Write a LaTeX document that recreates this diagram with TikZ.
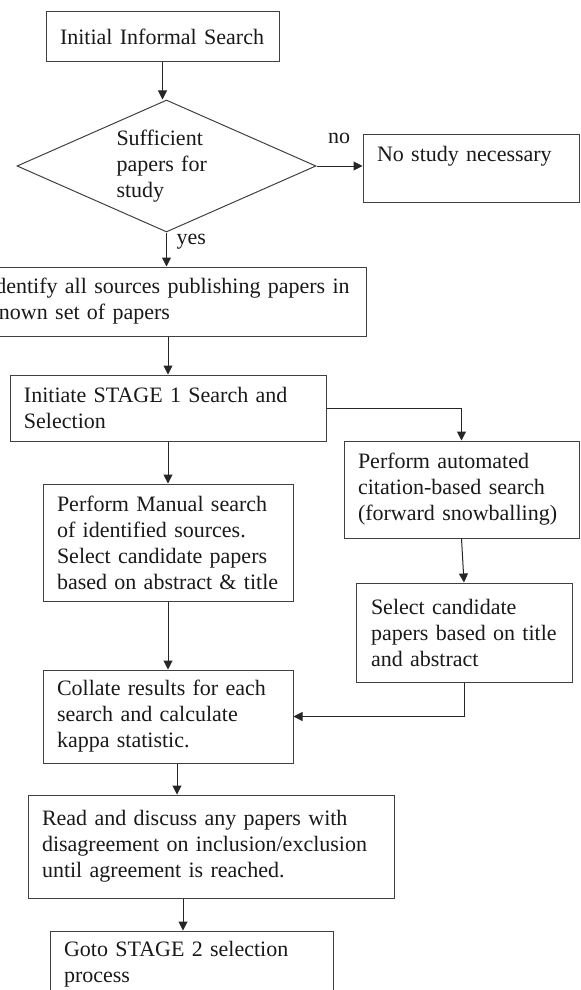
\documentclass[tikz,border=0pt]{standalone}
\usepackage{fontspec}
\setmainfont{Liberation Serif}
\usetikzlibrary{arrows.meta, shapes.geometric}

\begin{document}
\begin{tikzpicture}[>={Triangle[length=4.5pt, width=4.5pt]}, x=0.5pt, y=-0.5pt, line width=0.5pt,
        box/.style={draw=black!75, text=black!90, align=left, inner xsep=7pt, inner ysep=0pt, font=\fontsize{11pt}{13pt}\selectfont},
        lbl/.style={inner sep=0pt, text=black!90, font=\fontsize{11pt}{13pt}\selectfont},
        link/.style={->, draw=black!85}]
            \useasboundingbox (0, 0) rectangle (580, 990);
            \node[box, text width=102.5pt, minimum height=25pt] (init) at (162.5, 37) {Initial Informal Search};
            \node[draw=black!75, text=black!90, shape=diamond, aspect=2.27, inner sep=0pt, minimum width=149.5pt, minimum height=66pt, text width=50pt, align=left, font=\fontsize{11pt}{13pt}\selectfont] (dec) at (166.5, 166) {Sufficient\\papers for\\study};
            \node[box, text width=94pt, minimum height=33.5pt, text height=8pt, text depth=14.5pt] (nostudy) at (471, 168.5) {No study necessary};
            \node[lbl] (nolbl) at (339, 138) {no};
            \node[lbl, anchor=west] (yeslbl) at (176, 242) {yes};
            \node[box, text width=182pt, minimum height=34.5pt] (ident) at (170, 301.5) {Identify all sources publishing papers in\\known set of papers};
            \node[box, text width=144pt, minimum height=33pt] (stage1) at (168, 408) {Initiate STAGE 1 Search and\\Selection};
            \node[box, text width=103.5pt, minimum height=48.5pt] (auto) at (461.5, 489.5) {Perform automated\\citation-based search\\(forward snowballing)};
            \node[box, text width=111pt, minimum height=58.5pt] (manual) at (168, 542.5) {Perform Manual search\\of identified sources.\\Select candidate papers\\based on abstract \& title};
            \node[box, inner xsep=7.5pt, text width=93pt, minimum height=49.5pt] (select) at (464, 632.5) {Select candidate\\papers based on title\\and abstract};
            \node[box, text width=111pt, minimum height=46.5pt] (collate) at (168, 716.5) {Collate results for each\\search and calculate\\kappa statistic.};
            \node[box, text width=169pt, minimum height=51.5pt] (read) at (211, 846.5) {Read and discuss any papers with\\disagreement on inclusion/exclusion\\until agreement is reached.};
            \node[box, text width=127.5pt, minimum height=33.5pt] (goto) at (191.5, 964.5) {Goto STAGE 2 selection\\process};
            \draw[link] (init.south) -- (init.south |- dec.north);
            \draw[link] (dec.east) -- (dec.east -| nostudy.west);
            \draw[link] (dec.south) -- (dec.south |- ident.north);
            \draw[link] (stage1.north |- ident.south) -- (stage1.north);
            \draw[link] (stage1.east) -| (auto.north);
            \draw[link] (stage1.south) -- (manual.north);
            \draw[link] (auto.south) -- (select.north);
            \draw[link] (manual.south) -- (collate.north);
            \draw[link] (select.south) |- (collate.east);
            \draw[link] ([xshift=4.5pt]collate.south) -- ([xshift=4.5pt]collate.south |- read.north);
            \draw[link] ([xshift=-14pt]read.south) -- ([xshift=-14pt]read.south |- goto.north);
        \end{tikzpicture}
\end{document}
